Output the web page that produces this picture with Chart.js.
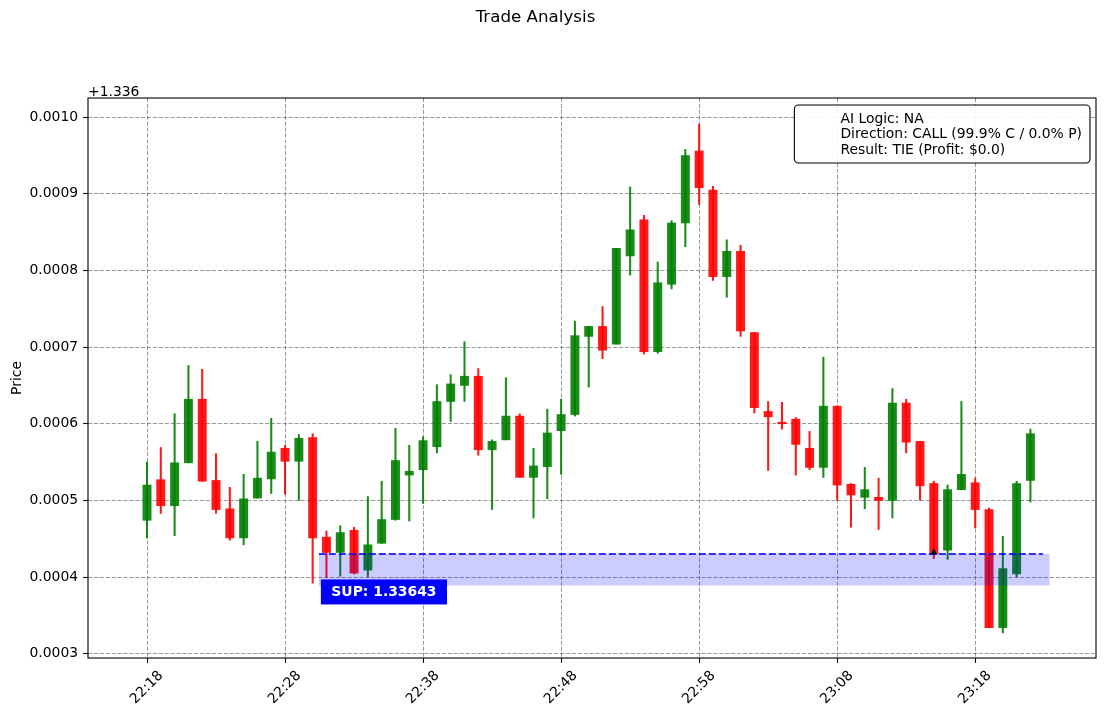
<!DOCTYPE html>
<html>
<head>
<meta charset="utf-8">
<title>Trade Analysis</title>
<script src="https://cdn.jsdelivr.net/npm/chart.js@4.4.0/dist/chart.umd.min.js"></script>
<style>
  html, body { margin: 0; padding: 0; background: #fff; }
  #wrap { width: 1105px; height: 716px; }
</style>
</head>
<body>
<div id="wrap"><canvas id="tradeChart" width="1105" height="716"></canvas></div>
<script>
// Prices are shown as offsets from 1.336 (same as the axis)
const priceOffset = 1.336;

const openPrices = [
  0.000474, 0.000527, 0.000493, 0.000549, 0.000632, 0.000526, 0.000489, 0.000451, 0.000503, 0.000528,
  0.000568, 0.000551, 0.000582, 0.000452, 0.000432, 0.000461, 0.000409, 0.000444, 0.000475, 0.000533,
  0.000540, 0.000570, 0.000629, 0.000650, 0.000662, 0.000566, 0.000579, 0.000610, 0.000530, 0.000544,
  0.000591, 0.000612, 0.000714, 0.000727, 0.000704, 0.000819, 0.000866, 0.000694, 0.000782, 0.000862,
  0.000956, 0.000905, 0.000792, 0.000825, 0.000719, 0.000616, 0.000602, 0.000606, 0.000568, 0.000543,
  0.000623, 0.000521, 0.000504, 0.000504, 0.000500, 0.000627, 0.000577, 0.000522, 0.000435, 0.000514,
  0.000523, 0.000488, 0.000334, 0.000404, 0.000526
];
const highPrices = [
  0.000550, 0.000569, 0.000613, 0.000676, 0.000671, 0.000561, 0.000517, 0.000534, 0.000577, 0.000607,
  0.000572, 0.000586, 0.000587, 0.000460, 0.000467, 0.000465, 0.000505, 0.000525, 0.000594, 0.000572,
  0.000583, 0.000651, 0.000664, 0.000707, 0.000672, 0.000579, 0.000660, 0.000613, 0.000568, 0.000619,
  0.000632, 0.000734, 0.000727, 0.000753, 0.000829, 0.000909, 0.000872, 0.000811, 0.000865, 0.000958,
  0.000991, 0.000910, 0.000840, 0.000833, 0.000719, 0.000629, 0.000628, 0.000608, 0.000590, 0.000687,
  0.000623, 0.000522, 0.000543, 0.000529, 0.000646, 0.000632, 0.000577, 0.000525, 0.000520, 0.000629,
  0.000529, 0.000490, 0.000453, 0.000525, 0.000593
];
const lowPrices = [
  0.000451, 0.000483, 0.000454, 0.000549, 0.000525, 0.000483, 0.000448, 0.000442, 0.000503, 0.000509,
  0.000508, 0.000500, 0.000392, 0.000399, 0.000401, 0.000404, 0.000400, 0.000444, 0.000474, 0.000473,
  0.000496, 0.000562, 0.000603, 0.000629, 0.000559, 0.000488, 0.000579, 0.000530, 0.000477, 0.000502,
  0.000534, 0.000610, 0.000648, 0.000685, 0.000704, 0.000794, 0.000691, 0.000692, 0.000776, 0.000831,
  0.000886, 0.000787, 0.000765, 0.000714, 0.000614, 0.000539, 0.000593, 0.000533, 0.000540, 0.000530,
  0.000500, 0.000465, 0.000489, 0.000462, 0.000477, 0.000562, 0.000500, 0.000424, 0.000423, 0.000514,
  0.000464, 0.000334, 0.000327, 0.000400, 0.000498
];
const closePrices = [
  0.000520, 0.000493, 0.000549, 0.000632, 0.000525, 0.000488, 0.000451, 0.000502, 0.000529, 0.000563,
  0.000551, 0.000581, 0.000451, 0.000432, 0.000458, 0.000405, 0.000442, 0.000475, 0.000552, 0.000538,
  0.000578, 0.000629, 0.000652, 0.000662, 0.000566, 0.000577, 0.000610, 0.000530, 0.000545, 0.000588,
  0.000612, 0.000715, 0.000727, 0.000696, 0.000829, 0.000853, 0.000694, 0.000784, 0.000862, 0.000950,
  0.000908, 0.000792, 0.000825, 0.000721, 0.000621, 0.000609, 0.000600, 0.000573, 0.000543, 0.000623,
  0.000520, 0.000507, 0.000514, 0.000500, 0.000627, 0.000576, 0.000519, 0.000430, 0.000514, 0.000534,
  0.000488, 0.000334, 0.000411, 0.000522, 0.000587
];

// one tick every 10 minutes, starting at the first candle
const xTickLabels = ['22:18', '22:28', '22:38', '22:48', '22:58', '23:08', '23:18'];
const yTickValues = [0.0003, 0.0004, 0.0005, 0.0006, 0.0007, 0.0008, 0.0009, 0.0010];

// support zone (x in minutes from 22:18)
const supportLevel = 0.000430;
const zoneLow = 0.000389;
const zoneStart = 12.45;
const zoneEnd = 65.4;
const lineEnd = 64.9;

// trade entry marker
const entryIndex = 57;
const entryPrice = 0.000432;

const infoLines = [
  'AI Logic: NA',
  'Direction: CALL (99.9% C / 0.0% P)',
  'Result: TIE (Profit: $0.0)'
];

const GREEN = 'rgba(0, 128, 0, 0.9)';
const RED = 'rgba(255, 0, 0, 0.9)';
const FONT = 'DejaVu Sans';

Chart.defaults.font.family = FONT;
Chart.defaults.font.size = 13.9;
Chart.defaults.color = '#000';

const candleColors = openPrices.map((o, i) => closePrices[i] >= o ? GREEN : RED);
const wickData = openPrices.map((_, i) => ({ x: i, y: [lowPrices[i], highPrices[i]] }));
const bodyData = openPrices.map((o, i) => ({ x: i, y: [o, closePrices[i]] }));

// extra drawing: frame, title, offset text, support label, info box
const decorations = {
  id: 'decorations',
  afterDraw(chart) {
    const { ctx, chartArea: a, scales } = chart;
    ctx.save();

    // frame
    ctx.strokeStyle = '#000';
    ctx.lineWidth = 1.1;
    ctx.strokeRect(a.left, a.top, a.right - a.left, a.bottom - a.top);

    // figure title
    ctx.fillStyle = '#000';
    ctx.font = '16.7px ' + FONT;
    ctx.textAlign = 'center';
    ctx.textBaseline = 'middle';
    ctx.fillText('Trade Analysis', 535.5, 18);

    // axis offset
    ctx.font = '13.9px ' + FONT;
    ctx.textAlign = 'left';
    ctx.textBaseline = 'alphabetic';
    ctx.fillText('+' + priceOffset, a.left, a.top - 2.5);

    // support label
    const supText = 'SUP: ' + (priceOffset + supportLevel).toFixed(5);
    ctx.font = 'bold 13.9px ' + FONT;
    const sw = ctx.measureText(supText).width;
    const bx = scales.x.getPixelForValue(zoneStart) + 2;
    const by = scales.y.getPixelForValue(zoneLow) - 6;
    ctx.fillStyle = 'rgb(0, 0, 255)';
    ctx.fillRect(bx, by, sw + 21, 25);
    ctx.fillStyle = '#fff';
    ctx.textBaseline = 'middle';
    ctx.fillText(supText, bx + 10.5, by + 12.5);

    // info box
    ctx.font = '13.9px ' + FONT;
    const tw = Math.max(...infoLines.map(t => ctx.measureText(t).width));
    const w = tw + 54, h = 58;
    const x0 = a.right - 6 - w, y0 = a.top + 7;
    ctx.beginPath();
    ctx.roundRect(x0, y0, w, h, 4);
    ctx.fillStyle = 'rgba(255, 255, 255, 0.9)';
    ctx.fill();
    ctx.strokeStyle = '#000';
    ctx.lineWidth = 1.1;
    ctx.stroke();
    ctx.fillStyle = '#000';
    ctx.textBaseline = 'middle';
    infoLines.forEach((t, i) => ctx.fillText(t, x0 + 46, y0 + 14 + i * 15.7));

    ctx.restore();
  }
};

const ctx = document.getElementById('tradeChart').getContext('2d');
const tradeChart = new Chart(ctx, {
  type: 'bar',
  data: {
    datasets: [
      {
        label: 'wicks',
        data: wickData,
        backgroundColor: candleColors,
        barThickness: 1.4,
        grouped: false,
        order: 5
      },
      {
        label: 'bodies',
        data: bodyData,
        backgroundColor: candleColors,
        barThickness: 8.3,
        minBarLength: 1,
        grouped: false,
        order: 4
      },
      {
        type: 'line',
        label: 'zone',
        data: [{ x: zoneStart, y: supportLevel }, { x: zoneEnd, y: supportLevel }],
        fill: { value: zoneLow },
        backgroundColor: 'rgba(0, 0, 255, 0.2)',
        borderWidth: 0,
        pointRadius: 0,
        order: 3
      },
      {
        type: 'line',
        label: 'support',
        data: [{ x: zoneStart, y: supportLevel }, { x: lineEnd, y: supportLevel }],
        borderColor: 'rgba(0, 0, 255, 0.8)',
        borderWidth: 2,
        borderDash: [7, 3],
        pointRadius: 0,
        fill: false,
        order: 2
      },
      {
        type: 'line',
        label: 'entry',
        data: [{ x: entryIndex, y: entryPrice }],
        showLine: false,
        pointStyle: 'triangle',
        pointRadius: 4,
        backgroundColor: '#000',
        borderColor: '#000',
        borderWidth: 0,
        order: 1
      }
    ]
  },
  options: {
    responsive: false,
    animation: false,
    layout: { padding: { top: 98, right: 9, left: 0, bottom: 0 } },
    plugins: {
      legend: { display: false },
      title: { display: false },
      tooltip: { enabled: false }
    },
    scales: {
      x: {
        type: 'linear',
        min: -4.275,
        max: 68.75,
        offset: false,
        afterFit: (scale) => { scale.height = 58; },
        grid: {
          offset: false,
          color: 'rgba(0, 0, 0, 0.5)',
          lineWidth: 0.8,
          tickLength: 4.9,
          tickColor: '#000',
          tickWidth: 1.1,
          tickBorderDash: []
        },
        border: { display: false, dash: [4.1, 1.8] },
        ticks: {
          stepSize: 10,
          includeBounds: false,
          autoSkip: false,
          minRotation: 45,
          maxRotation: 45,
          labelOffset: 14,
          padding: 4.7,
          callback: (v) => xTickLabels[Math.round(v / 10)] ?? ''
        }
      },
      y: {
        min: 0.0002943,
        max: 0.0010251,
        afterFit: (scale) => { scale.width = 88; },
        grid: {
          color: 'rgba(0, 0, 0, 0.5)',
          lineWidth: 0.8,
          tickLength: 4.9,
          tickColor: '#000',
          tickWidth: 1.1,
          tickBorderDash: []
        },
        border: { display: false, dash: [4.1, 1.8] },
        ticks: {
          stepSize: 0.0001,
          includeBounds: false,
          padding: 5,
          callback: (v) => {
            const t = yTickValues.find(y => Math.abs(y - v) < 1e-9);
            return t === undefined ? '' : t.toFixed(4);
          }
        },
        title: { display: true, text: 'Price', padding: { top: 8.7, bottom: 0 } }
      }
    }
  },
  plugins: [decorations]
});
</script>
</body>
</html>
